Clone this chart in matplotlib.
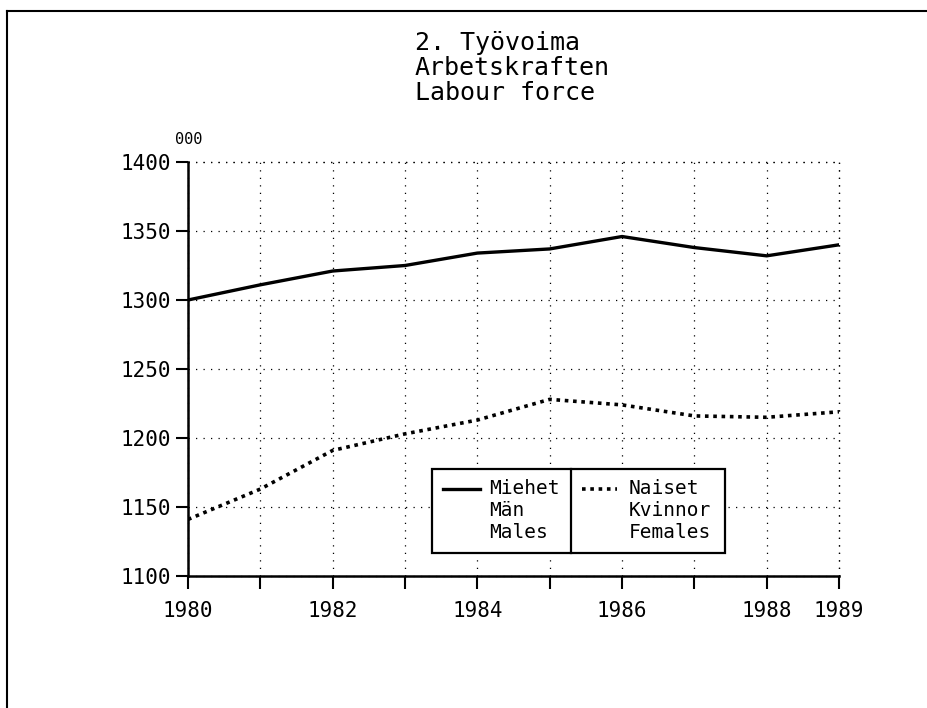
import matplotlib.pyplot as plt
from matplotlib.lines import Line2D
from matplotlib.patches import Rectangle

plt.rcParams['font.family'] = ['DejaVu Sans Mono']

# data (thousands)
years = [1980, 1981, 1982, 1983, 1984, 1985, 1986, 1987, 1988, 1989]
males = [1300, 1311, 1321, 1325, 1334, 1337, 1346, 1338, 1332, 1340]
females = [1141, 1163, 1191, 1203, 1213, 1228, 1224, 1216, 1215, 1219]
xtick_labels = ['1980', '', '1982', '', '1984', '', '1986', '', '1988', '1989']
yticks = [1100, 1150, 1200, 1250, 1300, 1350, 1400]
title_lines = ['2. Työvoima', 'Arbetskraften', 'Labour force']
male_label = ['Miehet', 'Män', 'Males']
female_label = ['Naiset', 'Kvinnor', 'Females']

W, H = 927, 708
fig = plt.figure(figsize=(W / 100, H / 100), dpi=100)

def fx(px):
    return px / W

def fy(py):
    return 1 - py / H

dotted = (0, (1.0, 1.3))

ax = fig.add_axes([fx(188), fy(576), fx(839) - fx(188), fy(162) - fy(576)])

ax.plot(years, males, color='black', lw=2.4, solid_capstyle='round', zorder=3)
ax.plot(years, females, color='black', lw=2.6, linestyle=dotted,
        dash_capstyle='butt', zorder=3)

ax.set_xlim(1980, 1989)
ax.set_ylim(1100, 1400)
ax.set_xticks(years)
ax.set_xticklabels(xtick_labels)
ax.set_yticks(yticks)
ax.tick_params(axis='both', direction='out', length=9, width=1.5,
               labelsize=15, color='black')
ax.tick_params(axis='x', pad=9)
ax.tick_params(axis='y', pad=3)
ax.grid(True, color='black', linestyle=(0, (1, 5)), linewidth=0.9, clip_on=False)
for s in ['top', 'right']:
    ax.spines[s].set_visible(False)
for s in ['left', 'bottom']:
    ax.spines[s].set_linewidth(1.8)

# top and right gridlines at the edge (spines hidden)
ax.axhline(1400, color='black', linestyle=(0, (1, 5)), lw=0.9, clip_on=False)
ax.axvline(1989, color='black', linestyle=(0, (1, 5)), lw=0.9, clip_on=False)

fig.text(fx(175), fy(147), '000', fontsize=11, ha='left', va='bottom')

# title
for i, line in enumerate(title_lines):
    fig.text(fx(415), fy(50 + 25 * i), line, fontsize=18, ha='left', va='baseline')

# legend box
bx0, bx1, bdiv, by0, by1 = 432, 725, 571, 469, 553
fig.add_artist(Rectangle((fx(bx0), fy(by1)), fx(bx1) - fx(bx0), fy(by0) - fy(by1),
                         transform=fig.transFigure, fill=True, facecolor='white',
                         edgecolor='black', lw=1.6, zorder=5))
fig.add_artist(Line2D([fx(bdiv), fx(bdiv)], [fy(by0), fy(by1)], color='black',
                      lw=1.6, zorder=6))
fig.add_artist(Line2D([fx(443), fx(480)], [fy(489), fy(489)], color='black',
                      lw=2.4, zorder=6))
fig.add_artist(Line2D([fx(582), fx(617)], [fy(489), fy(489)], color='black',
                      lw=2.6, linestyle=dotted, dash_capstyle='butt', zorder=6))
for i, (m, f) in enumerate(zip(male_label, female_label)):
    yy = fy(489 + 21.5 * i)
    fig.text(fx(489), yy, m, fontsize=14, ha='left', va='center', zorder=7)
    fig.text(fx(629), yy, f, fontsize=14, ha='left', va='center', zorder=7)

# page frame
fig.add_artist(Line2D([fx(7), 1], [fy(11), fy(11)], color='black', lw=1.5))
fig.add_artist(Line2D([fx(7), fx(7)], [fy(11), 0], color='black', lw=1.5))

fig.savefig('out.png', dpi=100)
